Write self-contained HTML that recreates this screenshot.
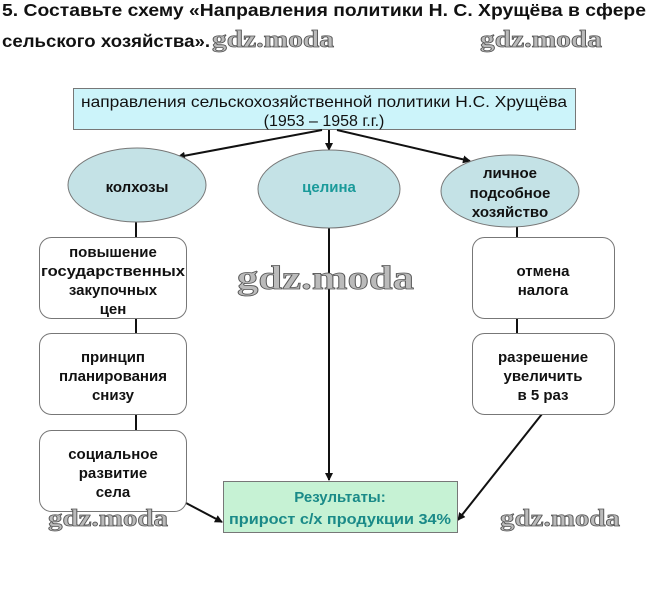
<!DOCTYPE html>
<html><head><meta charset="utf-8"><style>
html,body{margin:0;padding:0;background:#fff;}
svg{display:block;font-family:"Liberation Sans",Arial,sans-serif;}
.t{font-weight:bold;font-size:15px;fill:#111;text-anchor:middle;}
.wm{font-family:"Liberation Serif",serif;font-weight:bold;fill:#bbb;stroke:#555;stroke-width:0.8;}
</style></head><body>
<svg width="648" height="594" viewBox="0 0 648 594" xmlns="http://www.w3.org/2000/svg">
<defs><marker id="a" markerWidth="8" markerHeight="8" refX="7" refY="4" orient="auto" markerUnits="userSpaceOnUse"><path d="M0,0 L8,4 L0,8 z" fill="#111"/></marker></defs>
<text x="2" y="16" font-size="17.5" font-weight="bold" fill="#111" textLength="644" lengthAdjust="spacingAndGlyphs">5. Составьте схему «Направления политики Н. С. Хрущёва в сфере</text>
<text x="2" y="47" font-size="17.5" font-weight="bold" fill="#111" textLength="208" lengthAdjust="spacingAndGlyphs">сельского хозяйства».</text>
<text class="wm" x="212" y="47" font-size="24" textLength="122" lengthAdjust="spacingAndGlyphs">gdz.moda</text>
<text class="wm" x="480" y="47" font-size="24" textLength="122" lengthAdjust="spacingAndGlyphs">gdz.moda</text>

<rect x="73.5" y="88.5" width="502" height="41" fill="#ccf4fa" stroke="#777"/>
<text x="324" y="107" font-size="16" fill="#111" text-anchor="middle" textLength="486" lengthAdjust="spacingAndGlyphs">направления сельскохозяйственной политики Н.С. Хрущёва</text>
<text x="324" y="126" font-size="16" fill="#111" text-anchor="middle">(1953 – 1958 г.г.)</text>

<g stroke="#111" stroke-width="2" fill="none">
<line x1="322" y1="130" x2="178" y2="157" marker-end="url(#a)"/>
<line x1="329" y1="130" x2="329" y2="150" marker-end="url(#a)"/>
<line x1="337" y1="130" x2="470" y2="161" marker-end="url(#a)"/>
<line x1="136" y1="222" x2="136" y2="237"/>
<line x1="136" y1="318" x2="136" y2="333"/>
<line x1="136" y1="413" x2="136" y2="430"/>
<line x1="329" y1="228" x2="329" y2="480" marker-end="url(#a)"/>
<line x1="517" y1="227" x2="517" y2="237"/>
<line x1="517" y1="318" x2="517" y2="333"/>
<line x1="186" y1="503" x2="222" y2="522" marker-end="url(#a)"/>
<line x1="542" y1="414" x2="458" y2="520" marker-end="url(#a)"/>
</g>

<g fill="#c4e2e6" stroke="#777">
<ellipse cx="137" cy="185" rx="69" ry="37"/>
<ellipse cx="329" cy="189" rx="71" ry="39"/>
<ellipse cx="510" cy="191" rx="69" ry="36"/>
</g>
<text class="t" x="137" y="192">колхозы</text>
<text class="t" x="329" y="192" style="fill:#1a9a9a">целина</text>
<text class="t" x="510" y="178">личное</text>
<text class="t" x="510" y="198">подсобное</text>
<text class="t" x="510" y="217">хозяйство</text>

<g fill="#fff" stroke="#777">
<rect x="39.5" y="237.5" width="147" height="81" rx="12"/>
<rect x="39.5" y="333.5" width="147" height="81" rx="12"/>
<rect x="39.5" y="430.5" width="147" height="81" rx="12"/>
<rect x="472.5" y="237.5" width="142" height="81" rx="12"/>
<rect x="472.5" y="333.5" width="142" height="81" rx="12"/>
</g>
<text class="t" x="113" y="257">повышение</text>
<text class="t" x="113" y="276" textLength="144" lengthAdjust="spacingAndGlyphs">государственных</text>
<text class="t" x="113" y="295">закупочных</text>
<text class="t" x="113" y="314">цен</text>
<text class="t" x="113" y="362">принцип</text>
<text class="t" x="113" y="381">планирования</text>
<text class="t" x="113" y="400">снизу</text>
<text class="t" x="113" y="459">социальное</text>
<text class="t" x="113" y="478">развитие</text>
<text class="t" x="113" y="497">села</text>
<text class="t" x="543" y="276">отмена</text>
<text class="t" x="543" y="295">налога</text>
<text class="t" x="543" y="362">разрешение</text>
<text class="t" x="543" y="381">увеличить</text>
<text class="t" x="543" y="400">в 5 раз</text>

<rect x="223.5" y="481.5" width="234" height="51" fill="#c6f2d4" stroke="#777"/>
<text class="t" x="340" y="502" style="fill:#1a8a88">Результаты:</text>
<text class="t" x="340" y="524" style="fill:#1a8a88" textLength="222" lengthAdjust="spacingAndGlyphs">прирост с/х продукции 34%</text>

<text class="wm" x="237" y="289" font-size="34" textLength="177" lengthAdjust="spacingAndGlyphs">gdz.moda</text>
<text class="wm" x="48" y="526" font-size="24" textLength="120" lengthAdjust="spacingAndGlyphs">gdz.moda</text>
<text class="wm" x="500" y="526" font-size="24" textLength="120" lengthAdjust="spacingAndGlyphs">gdz.moda</text>
</svg>
</body></html>
